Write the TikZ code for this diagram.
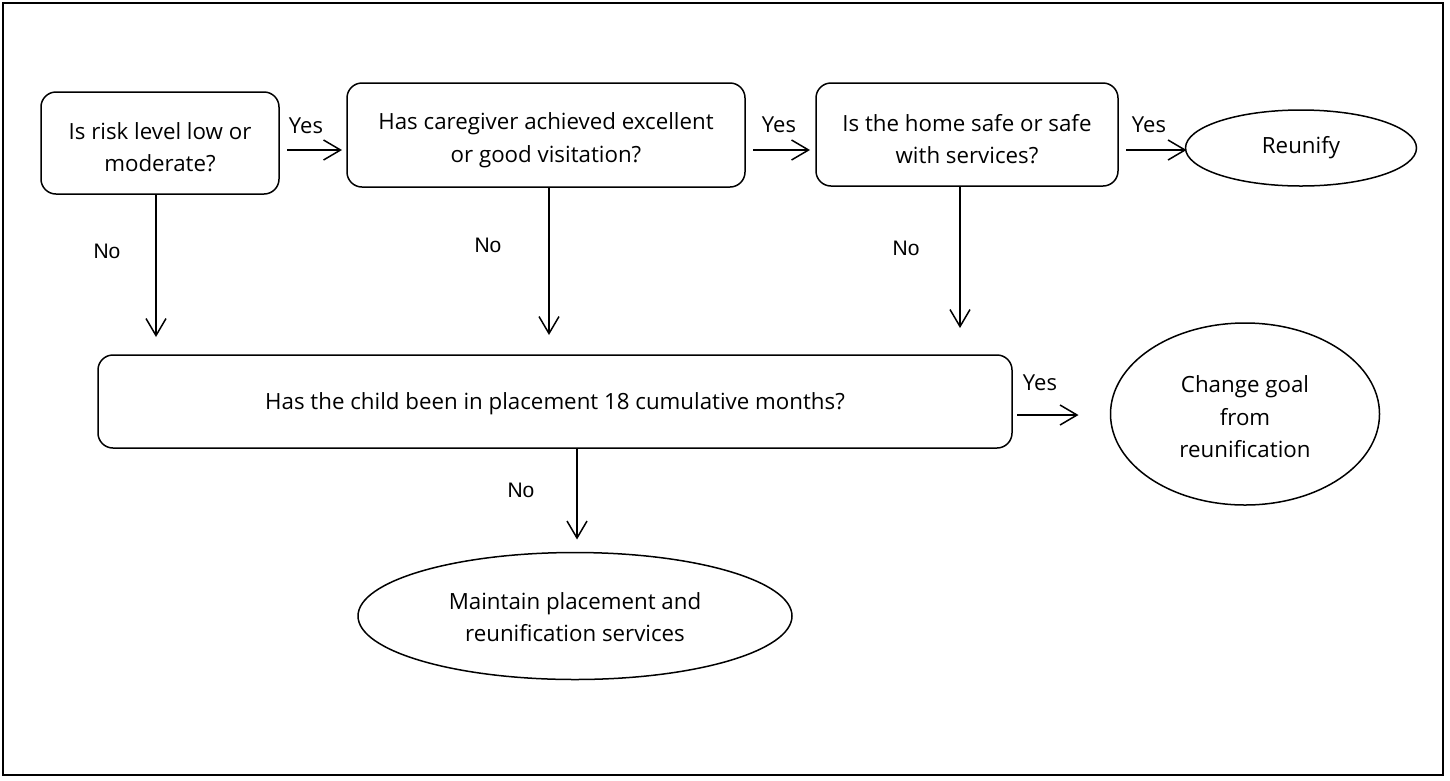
\documentclass[tikz,border=0pt]{standalone}
\usepackage{fontspec}
\setmainfont{Open Sans}
\newfontfamily\arialfont{Liberation Sans}
\usetikzlibrary{arrows.meta,shapes.geometric}
\begin{document}
\begin{tikzpicture}[x=1pt,y=-1pt,
  every node/.style={font=\fontsize{22.3}{32.5}\selectfont, inner sep=0pt, outer sep=0pt},
  qbox/.style={draw, line width=1.5pt, rounded corners=15pt, align=center},
  term/.style={draw, line width=1.5pt, ellipse, align=center},
  arr/.style={line width=1.5pt, -{Straight Barb[length=17pt,width=20pt,line width=1.5pt]}},
  lbl/.style={font=\fontsize{22}{24}\selectfont},
  nlbl/.style={font=\arialfont\fontsize{21}{24}\selectfont}]
\useasboundingbox (0,0) rectangle (1450,780);
\draw[line width=2pt] (3,3) rectangle (1443,775);

\node[qbox, minimum width=238pt, minimum height=102pt] (box1) at (160,143) {};
\node[align=center] (t1) at (160,147) {Is risk level low or\\moderate?};
\node[qbox, minimum width=398pt, minimum height=104pt] (box2) at (546,135) {};
\node[align=center] (t2) at (546,140) {Has caregiver achieved excellent\\or good visitation?};
\node[qbox, minimum width=302pt, minimum height=103pt] (box3) at (967,134.5) {};
\node[align=center] (t3) at (967,139) {Is the home safe or safe\\with services?};
\node[term, minimum width=231pt, minimum height=76pt] (reunify) at (1301,148) {Reunify};
\node[qbox, minimum width=914pt, minimum height=93pt] (big) at (555,401.5) {};
\node (t4) at (555,404) {Has the child been in placement 18 cumulative months?};
\node[term, minimum width=269pt, minimum height=182pt] (change) at (1245,414) {};
\node[align=center] (t5) at (1245,417) {Change goal\\from\\reunification};
\node[term, minimum width=434pt, minimum height=127pt] (maintain) at (575,616) {};
\node[align=center] (t6) at (575,617) {Maintain placement and\\reunification services};

% Yes arrows
\draw[arr] ([xshift=8pt]box1.east |- 0,150) -- ([xshift=-5pt]box2.west |- 0,150);
\node[lbl] (y1) at (306,126) {Yes};
\draw[arr] ([xshift=8pt]box2.east |- 0,150) -- ([xshift=-6pt]box3.west |- 0,150);
\node[lbl] (y2) at (779,125) {Yes};
\draw[arr] ([xshift=8pt]box3.east |- 0,150) -- ([xshift=1pt]reunify.west |- 0,150);
\node[lbl] (y3) at (1149,125) {Yes};
\draw[arr] ([xshift=5pt]big.east |- 0,415) -- ([xshift=-32pt]change.west |- 0,415);
\node[lbl] (y4) at (1040,383) {Yes};

% No arrows
\draw[arr] (box1.south -| 156,0) -- ([yshift=18pt]big.north -| 156,0);
\node[nlbl] (n1) at (107,251) {No};
\draw[arr] (box2.south -| 549,0) -- ([yshift=20pt]big.north -| 549,0);
\node[nlbl] (n2) at (488,245) {No};
\draw[arr] (box3.south -| 960,0) -- ([yshift=27pt]big.north -| 960,0);
\node[nlbl] (n3) at (906,248) {No};
\draw[arr] (big.south -| 577,0) -- ([yshift=13pt]maintain.north -| 577,0);
\node[nlbl] (n4) at (521,490) {No};
\end{tikzpicture}
\end{document}
